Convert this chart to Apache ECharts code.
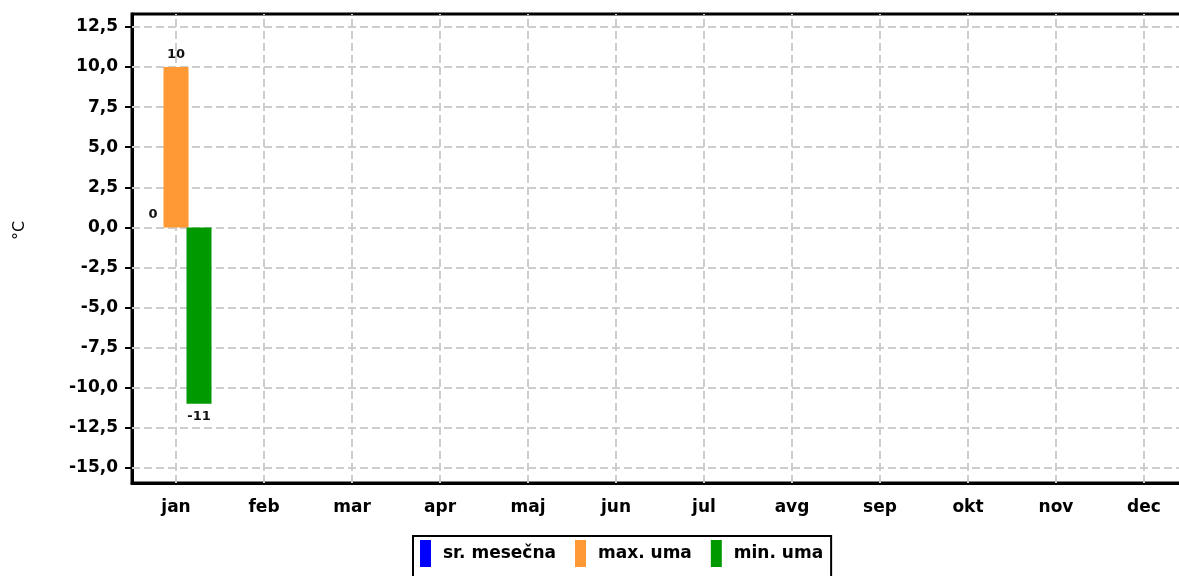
<!DOCTYPE html>
<html>
<head>
<meta charset="utf-8">
<script src="https://cdn.jsdelivr.net/npm/echarts@6/dist/echarts.min.js"></script>
<style>
html,body{margin:0;padding:0;background:#fff;}
#chart{width:1179px;height:576px;}
</style>
</head>
<body>
<div id="chart"></div>
<script>
const months = ['jan','feb','mar','apr','maj','jun','jul','avg','sep','okt','nov','dec'];
const srMesecna = [0, null, null, null, null, null, null, null, null, null, null, null];
const maxUrna = [10, null, null, null, null, null, null, null, null, null, null, null];
const minUrna = [-11, null, null, null, null, null, null, null, null, null, null, null];
const yTicks = [-15, -12.5, -10, -7.5, -5, -2.5, 0, 2.5, 5, 7.5, 10, 12.5];
const seriesNames = ['sr. mesečna', 'max. uma', 'min. uma'];
const yAxisName = '°C';

const FONT = 'DejaVu Sans';
const gridLine = { color: '#cdcdcd', width: 2, type: [8, 4] };

const chart = echarts.init(document.getElementById('chart'), null, { renderer: 'canvas' });
const labelStyle = { show: true, fontFamily: FONT, fontWeight: 'bold', fontSize: 13, color: '#111', distance: 6 };

chart.setOption({
  backgroundColor: '#fff',
  animation: false,
  grid: { left: 132, width: 1056, top: 14, bottom: 93, outerBoundsMode: 'none', containLabel: false, show: true, borderColor: '#000', borderWidth: 3, backgroundColor: 'transparent' },
  legend: {
    data: seriesNames,
    left: 413, top: 536,
    itemWidth: 11, itemHeight: 27, itemGap: 19,
    borderColor: '#000', borderWidth: 2, backgroundColor: '#fff',
    padding: [4, 8, 20, 7],
    icon: 'rect',
    textStyle: { fontFamily: FONT, fontWeight: 'bold', fontSize: 17, color: '#000', padding: [0, 0, 0, 7] }
  },
  xAxis: {
    type: 'category',
    data: months,
    boundaryGap: true,
    axisLine: { onZero: false, lineStyle: { color: '#000', width: 3 } },
    axisTick: { alignWithLabel: true, length: 6, lineStyle: { color: '#000', width: 2 } },
    axisLabel: { fontFamily: FONT, fontWeight: 'bold', fontSize: 17, color: '#000', margin: 16 },
    splitLine: { show: false }
  },
  yAxis: {
    type: 'value',
    min: -15.94, max: 13.31,
    name: yAxisName,
    nameLocation: 'middle', nameRotate: 90, nameGap: 104,
    nameTextStyle: { fontFamily: FONT, fontSize: 16, color: '#000', padding: [0, 0, 0, 36] },
    axisLine: { show: true, lineStyle: { color: '#000', width: 3 } },
    axisTick: { show: true, length: 7, customValues: yTicks, lineStyle: { color: '#000', width: 2 } },
    axisLabel: {
      customValues: yTicks, margin: 14,
      fontFamily: FONT, fontWeight: 'bold', fontSize: 17, color: '#000',
      formatter: v => v.toFixed(1).replace('.', ',')
    },
    splitLine: { show: false }
  },
  series: [
    {
      name: '_grid', type: 'line', data: [], z: 0, silent: true,
      markLine: {
        silent: true, symbol: 'none', label: { show: false }, z: 1,
        lineStyle: gridLine,
        data: months.map(m => ({ xAxis: m })).concat(yTicks.map(v => ({ yAxis: v })))
      }
    },
    {
      name: seriesNames[0], type: 'bar', data: srMesecna, barWidth: 25, barGap: '-8%', z: 3,
      itemStyle: { color: '#0000ff' },
      label: Object.assign({ position: 'top' }, labelStyle)
    },
    {
      name: seriesNames[1], type: 'bar', data: maxUrna, barWidth: 25, barGap: '-8%', z: 3,
      itemStyle: { color: '#ff9933' },
      label: Object.assign({ position: 'top' }, labelStyle)
    },
    {
      name: seriesNames[2], type: 'bar', data: minUrna, barWidth: 25, barGap: '-8%', z: 3,
      itemStyle: { color: '#009900' },
      label: Object.assign({ position: 'bottom' }, labelStyle)
    }
  ]
});
</script>
</body>
</html>
